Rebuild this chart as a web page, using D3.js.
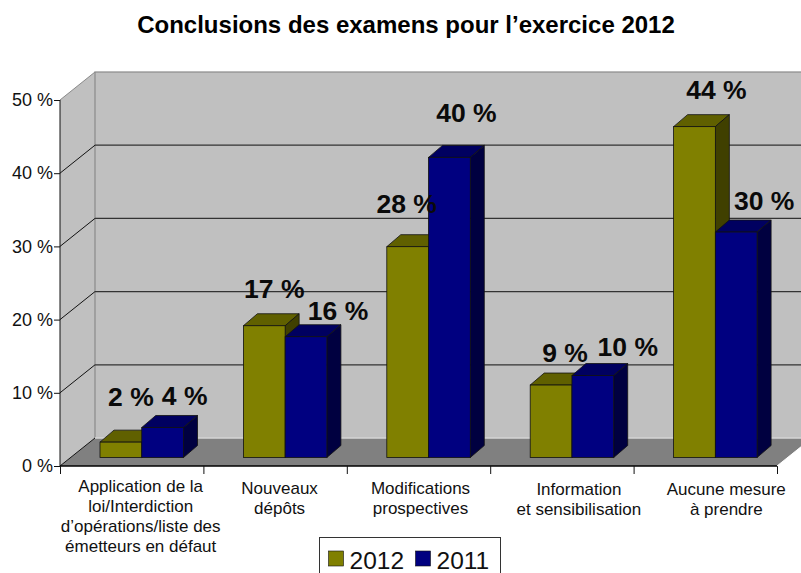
<!DOCTYPE html>
<html>

<head>
    <meta charset="utf-8">
    <style>
        body { margin: 0; background: #fff; }
        svg { display: block; font-family: "Liberation Sans", Arial, sans-serif; }
        .tick text { fill: #111; }
    </style>
</head>

<body>
    <svg id="container" width="801" height="573"></svg>
</body>
<script src="https://cdn.jsdelivr.net/npm/d3@7"></script>
<script>
    // data
    let categories = ["Application", "Nouveaux", "Modifications", "Information", "Aucune"]
    let categoryLines = [
        ["Application de la", "loi/Interdiction", "d’opérations/liste des", "émetteurs en défaut"],
        ["Nouveaux", "dépôts"],
        ["Modifications", "prospectives"],
        ["Information", "et sensibilisation"],
        ["Aucune mesure", "à prendre"]
    ]
    let seriesNames = ["2012", "2011"]
    let values2012 = [2.1, 18, 28.8, 9.9, 45.2] // bar heights as drawn
    let values2011 = [4.1, 16.5, 41, 11.2, 30.8]
    let labels2012 = ["2 %", "17 %", "28 %", "9 %", "44 %"]
    let labels2011 = ["4 %", "16 %", "40 %", "10 %", "30 %"]
    let yTicks = [0, 10, 20, 30, 40, 50]

    // label placement, the chart did not keep labels in one spot relative to the bars
    let labelNudge2012 = [[10, -36], [10, -28], [-1, -34], [14, -23], [22, -28]]
    let labelNudge2011 = [[22, -22], [32, -17], [17, -35], [35, -20], [28, -22]]
    let categoryNudge = [9, 4.5, 2, 17, 21]
    let categoryBaseline = [492, 494, 494, 495, 495]

    let svg = d3.select("#container")
    let depthX = 35, depthY = 28 // wall depth
    let barDepthX = 14, barDepthY = 12
    let left = 60, right = 777

    let xScale = d3.scaleBand().domain(categories).range([left, right])
    let seriesScale = d3.scaleBand().domain(seriesNames).range([40, 123.5])
    let xEdges = d3.scaleLinear().domain([0, 5]).range([left, right])
    let yScale = d3.scaleLinear().domain([0, 50]).range([466, 100])
    let barBase = yScale(0) - 8.5

    svg.append("text")
        .attr("x", 406).attr("y", 33)
        .attr("text-anchor", "middle")
        .attr("font-size", 24).attr("font-weight", "bold")
        .text("Conclusions des examens pour l’exercice 2012")

    // back wall, side wall, floor
    let poly = pts => pts.map(p => p.join(",")).join(" ")
    svg.append("polygon")
        .attr("points", poly([[left, yScale(0)], [left + depthX, yScale(0) - depthY], [left + depthX, yScale(50) - depthY], [left, yScale(50)]]))
        .attr("fill", "#c0c0c0")
    svg.append("rect")
        .attr("x", left + depthX).attr("y", yScale(50) - depthY)
        .attr("width", right - left).attr("height", yScale(0) - yScale(50))
        .attr("fill", "#c0c0c0").attr("stroke", "#8a8a8a").attr("stroke-width", 1.2)
    svg.append("polygon")
        .attr("points", poly([[left, yScale(0)], [left + depthX, yScale(0) - depthY], [right + depthX, yScale(0) - depthY], [right, yScale(0)]]))
        .attr("fill", "#808080")
    svg.append("line")
        .attr("x1", left + depthX).attr("x2", right + depthX)
        .attr("y1", yScale(0) - depthY).attr("y2", yScale(0) - depthY)
        .attr("stroke", "#fff")

    // gridlines go along the back wall and fold onto the side wall
    yTicks.filter(d => d > 0 && d < 50).forEach(d => {
        svg.append("line")
            .attr("x1", left + depthX).attr("x2", right + depthX)
            .attr("y1", yScale(d) - depthY).attr("y2", yScale(d) - depthY)
            .attr("stroke", "#333").attr("stroke-width", 1.2)
    })
    yTicks.forEach(d => {
        svg.append("line")
            .attr("x1", left).attr("x2", left + depthX)
            .attr("y1", yScale(d)).attr("y2", yScale(d) - depthY)
            .attr("stroke", d == 50 ? "#8a8a8a" : "#111")
    })

    // bars, each with front, top and side faces
    let seriesColors = [
        { front: "#808000", top: "#606000", side: "#404000" },
        { front: "#000080", top: "#000060", side: "#000040" }
    ]
    let stroke = "#111"
    categories.forEach((c, i) => {
        [values2012, values2011].forEach((values, s) => {
            let x0 = xScale(c) + seriesScale(seriesNames[s])
            let x1 = x0 + seriesScale.bandwidth()
            let top = barBase - (yScale(0) - yScale(values[i]))
            let g = svg.append("g").attr("stroke", stroke).attr("stroke-width", 0.8)
            g.append("polygon")
                .attr("points", poly([[x0, top], [x0 + barDepthX, top - barDepthY], [x1 + barDepthX, top - barDepthY], [x1, top]]))
                .attr("fill", seriesColors[s].top)
            g.append("polygon")
                .attr("points", poly([[x1, top], [x1 + barDepthX, top - barDepthY], [x1 + barDepthX, barBase - barDepthY], [x1, barBase]]))
                .attr("fill", seriesColors[s].side)
            g.append("rect")
                .attr("x", x0).attr("y", top)
                .attr("width", x1 - x0).attr("height", barBase - top)
                .attr("fill", seriesColors[s].front)
        })
    })

    // axes
    let yAxis = svg.append("g")
        .attr("transform", "translate(" + left + ",0)")
        .call(d3.axisLeft(yScale).tickValues(yTicks).tickSize(6).tickPadding(1).tickFormat(d => d + " %"))
    yAxis.selectAll("text").attr("font-size", 18).attr("font-family", "Liberation Sans")
    yAxis.selectAll("line").attr("stroke", "#111")
    yAxis.select(".domain").attr("stroke", "#111").attr("d", "M0,100V466")

    let xAxis = svg.append("g")
        .attr("transform", "translate(0," + yScale(0) + ")")
        .call(d3.axisBottom(xEdges).ticks(5).tickSize(8).tickFormat(""))
    xAxis.selectAll("line").attr("stroke", "#111")
    xAxis.select(".domain").attr("stroke", "#000").attr("stroke-width", 1.5).attr("d", "M" + left + ",0H" + right)

    svg.append("line")
        .attr("x1", right).attr("x2", right + depthX)
        .attr("y1", yScale(0)).attr("y2", yScale(0) - depthY)
        .attr("stroke", "#fff")

    // category labels
    categories.forEach((c, i) => {
        let t = svg.append("text")
            .attr("text-anchor", "middle").attr("font-size", 17).attr("fill", "#111")
        categoryLines[i].forEach((line, k) => {
            t.append("tspan")
                .attr("x", xScale(c) + xScale.bandwidth() / 2 + categoryNudge[i])
                .attr("y", categoryBaseline[i] + k * 20)
                .text(line)
        })
    })

    // value labels
    let labelSets = [[values2012, labels2012, labelNudge2012], [values2011, labels2011, labelNudge2011]]
    labelSets.forEach(([values, labels, nudge], s) => {
        svg.append("g").selectAll("text")
            .data(categories)
            .join("text")
            .attr("x", (c, i) => xScale(c) + seriesScale(seriesNames[s]) + seriesScale.bandwidth() / 2 + nudge[i][0])
            .attr("y", (c, i) => barBase - (yScale(0) - yScale(values[i])) + nudge[i][1])
            .attr("text-anchor", "middle")
            .attr("font-size", 26.5).attr("font-weight", "bold").attr("fill", "#0a0a0a")
            .text((c, i) => labels[i])
    })

    // legend
    let legend = svg.append("g").attr("transform", "translate(319.5,537.5)")
    legend.append("rect")
        .attr("width", 181).attr("height", 40)
        .attr("fill", "#fff").attr("stroke", "#333")
    let legendX = d3.scaleOrdinal().domain(seriesNames).range([9, 96])
    seriesNames.forEach((name, s) => {
        legend.append("rect")
            .attr("x", legendX(name)).attr("y", 13.5)
            .attr("width", 15).attr("height", 15)
            .attr("fill", seriesColors[s].front).attr("stroke", "#111").attr("stroke-width", 0.6)
        legend.append("text")
            .attr("x", legendX(name) + 21).attr("y", 31)
            .attr("font-size", 24.5).attr("fill", "#111")
            .text(name)
    })
</script>

</html>
